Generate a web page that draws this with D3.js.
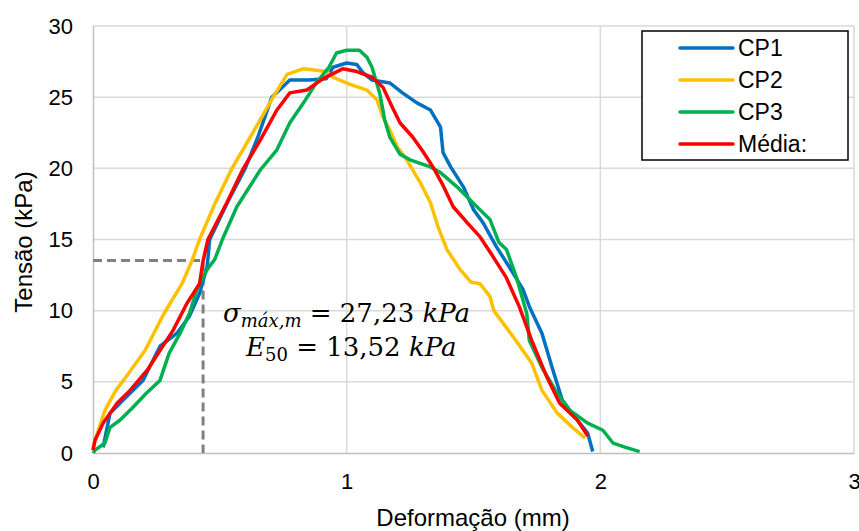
<!DOCTYPE html>
<html>
<head>
<meta charset="utf-8">
<script src="https://cdn.jsdelivr.net/npm/d3@7"></script>
<style>
  body { margin: 0; background: #fff; }
</style>
</head>
<body>
<div id="chart"></div>
<script>
// curve data: [deformação (mm), tensão (kPa)]
const cp1 = [[0.04,0.4],[0.067,2.8],[0.118,3.7],[0.197,5.1],[0.264,7.5],[0.33,8.4],[0.38,9.6],[0.42,11.2],[0.45,13.1],[0.46,15],[0.53,17.6],[0.6,20],[0.65,22.2],[0.705,25],[0.776,26.2],[0.85,26.2],[0.92,26.3],[0.946,27.1],[1.0,27.4],[1.04,27.3],[1.065,26.7],[1.1,26.2],[1.17,26.0],[1.22,25.3],[1.277,24.6],[1.33,24.1],[1.37,22.9],[1.38,21.1],[1.41,20.1],[1.46,18.7],[1.5,17.1],[1.537,16.2],[1.59,14.5],[1.64,13.1],[1.695,11.5],[1.72,10.3],[1.77,8.4],[1.81,6.0],[1.85,3.7],[1.91,2.3],[1.95,1.4],[1.97,0.1]];
const cp2 = [[0.0,0.3],[0.008,0.9],[0.047,3.0],[0.09,4.4],[0.12,5.1],[0.205,7.2],[0.28,9.8],[0.351,11.9],[0.39,13.5],[0.42,15.0],[0.48,17.5],[0.548,20.0],[0.63,22.5],[0.71,25.0],[0.765,26.6],[0.83,27.0],[0.92,26.8],[0.946,26.4],[1.013,25.9],[1.08,25.5],[1.12,24.8],[1.143,23.6],[1.17,22.7],[1.2,21.5],[1.237,20.6],[1.29,19.0],[1.33,17.6],[1.36,15.9],[1.395,14.3],[1.447,12.9],[1.49,12.0],[1.525,11.9],[1.565,11.0],[1.58,10.0],[1.655,8.2],[1.73,6.3],[1.77,4.4],[1.83,2.8],[1.89,1.8],[1.94,1.05]];
const cp3 = [[0.0,0.0],[0.008,0.2],[0.047,0.7],[0.067,1.8],[0.106,2.3],[0.157,3.2],[0.21,4.2],[0.264,5.1],[0.3,7.0],[0.343,8.4],[0.38,9.8],[0.41,11.5],[0.45,12.9],[0.48,13.6],[0.51,15.0],[0.567,17.3],[0.66,19.9],[0.725,21.3],[0.776,23.2],[0.83,24.6],[0.88,26.0],[0.93,27.1],[0.96,28.1],[1.0,28.3],[1.05,28.3],[1.08,27.8],[1.1,27.1],[1.13,25.3],[1.15,23.4],[1.17,22.2],[1.21,21.0],[1.25,20.6],[1.33,20.1],[1.37,19.7],[1.435,18.7],[1.486,17.8],[1.525,17.1],[1.565,16.4],[1.6,14.8],[1.63,14.3],[1.67,12.3],[1.71,9.8],[1.72,7.9],[1.77,6.0],[1.83,4.2],[1.88,3.0],[1.95,2.1],[2.01,1.6],[2.05,0.7],[2.1,0.4],[2.155,0.1]];
const media = [[0.0,0.2],[0.008,0.9],[0.04,2.1],[0.095,3.5],[0.146,4.4],[0.213,5.8],[0.264,7.2],[0.315,8.6],[0.37,10.5],[0.42,11.9],[0.434,13.5],[0.453,15.0],[0.528,17.6],[0.59,19.9],[0.66,22.0],[0.725,24.1],[0.776,25.3],[0.843,25.5],[0.907,26.3],[0.974,26.9],[0.985,27.0],[1.04,26.8],[1.1,26.4],[1.143,25.7],[1.18,24.3],[1.21,23.2],[1.26,22.2],[1.3,21.2],[1.34,20.1],[1.38,18.8],[1.42,17.3],[1.474,16.2],[1.525,15.2],[1.577,13.8],[1.63,12.3],[1.68,10.3],[1.73,7.9],[1.79,5.3],[1.84,3.5],[1.91,2.3],[1.95,1.2]];

const seriesNames = ["CP1", "CP2", "CP3", "Média:"];
const seriesColors = ["#0070C0", "#FFC000", "#00B050", "#FF0000"];
const seriesData = [cp1, cp2, cp3, media];

const xTicks = [0, 1, 2, 3];
const yTicks = [0, 5, 10, 15, 20, 25, 30];
const e50Point = [0.434, 13.52]; // dashed guide to the E50 point

const width = 859, height = 531;
const margin = {top: 26, right: 5, bottom: 78, left: 93};
const sans = "'Liberation Sans', Arial, sans-serif";
const serif = "'DejaVu Serif', 'Liberation Serif', serif";

const svg = d3.select("#chart")
  .append("svg")
  .attr("width", width)
  .attr("height", height)
  .attr("font-family", sans);

const x = d3.scaleLinear().domain([0, 3]).range([margin.left, width - margin.right]);
const y = d3.scaleLinear().domain([0, 30]).range([height - margin.bottom, margin.top]);

// gridlines
svg.append("g")
  .selectAll("line")
  .data(yTicks.slice(1))
  .join("line")
    .attr("x1", margin.left).attr("x2", width - margin.right)
    .attr("y1", d => y(d)).attr("y2", d => y(d))
    .attr("stroke", "#d9d9d9").attr("stroke-width", 1.5);

svg.append("g")
  .selectAll("line")
  .data(xTicks.slice(1))
  .join("line")
    .attr("x1", d => x(d)).attr("x2", d => x(d))
    .attr("y1", margin.top).attr("y2", height - margin.bottom)
    .attr("stroke", "#d9d9d9").attr("stroke-width", 1.5);

// axes
const yAxis = svg.append("g")
  .attr("transform", `translate(${margin.left},0)`)
  .call(d3.axisLeft(y).tickValues(yTicks).tickFormat(d3.format("d")).tickSize(0).tickPadding(20));
yAxis.select(".domain").attr("stroke", "#bfbfbf").attr("stroke-width", 1.5);

const xAxis = svg.append("g")
  .attr("transform", `translate(0,${height - margin.bottom})`)
  .call(d3.axisBottom(x).tickValues(xTicks).tickFormat(d3.format("d")).tickSize(0).tickPadding(20));
xAxis.select(".domain").attr("stroke", "#bfbfbf").attr("stroke-width", 1.5);

svg.selectAll(".tick text")
  .attr("font-family", sans)
  .attr("font-size", 22)
  .attr("fill", "#000");

// axis titles
svg.append("text")
  .attr("x", 473)
  .attr("y", 526)
  .attr("text-anchor", "middle")
  .attr("font-size", 24)
  .text("Deformação (mm)");

svg.append("text")
  .attr("transform", `translate(32,242) rotate(-90)`)
  .attr("text-anchor", "middle")
  .attr("font-size", 24)
  .text("Tensão (kPa)");

// dashed guide
svg.append("path")
  .attr("d", `M${x(0)},${y(e50Point[1])}H${x(e50Point[0])}V${y(0)}`)
  .attr("fill", "none")
  .attr("stroke", "#808080")
  .attr("stroke-width", 3)
  .attr("stroke-dasharray", "9,5");

// curves
const line = d3.line().x(d => x(d[0])).y(d => y(d[1]));
svg.append("g")
  .selectAll("path")
  .data(seriesData)
  .join("path")
    .attr("d", line)
    .attr("fill", "none")
    .attr("stroke", (d, i) => seriesColors[i])
    .attr("stroke-width", 3.5)
    .attr("stroke-linejoin", "round");

// annotation
const t1 = svg.append("text").attr("x", 223).attr("y", 322)
  .attr("font-family", serif).attr("font-size", 26);
t1.append("tspan").attr("font-style", "italic").text("σ");
t1.append("tspan").attr("font-style", "italic").attr("font-size", 18).attr("dy", 5).text("máx,m");
t1.append("tspan").attr("dy", -5).text(" = 27,23 ");
t1.append("tspan").attr("font-style", "italic").text("kPa");

const t2 = svg.append("text").attr("x", 246).attr("y", 356)
  .attr("font-family", serif).attr("font-size", 26);
t2.append("tspan").attr("font-style", "italic").text("E");
t2.append("tspan").attr("font-size", 18).attr("dy", 5).text("50");
t2.append("tspan").attr("dy", -5).text(" = 13,52 ");
t2.append("tspan").attr("font-style", "italic").text("kPa");

// legend
const legend = svg.append("g");
legend.append("rect")
  .attr("x", 642).attr("y", 31).attr("width", 206).attr("height", 129)
  .attr("fill", "#fff").attr("stroke", "#000").attr("stroke-width", 1.5);

const rows = legend.selectAll("g.row")
  .data(seriesNames)
  .join("g")
    .attr("class", "row")
    .attr("transform", (d, i) => `translate(0,${48 + i * 32})`);

rows.append("line")
  .attr("x1", 680).attr("x2", 733)
  .attr("stroke", (d, i) => seriesColors[i])
  .attr("stroke-width", 3.5)
  .attr("stroke-linecap", "round");

rows.append("text")
  .attr("x", 738)
  .attr("dy", "0.35em")
  .attr("font-size", 23)
  .text(d => d);
</script>
</body>
</html>
